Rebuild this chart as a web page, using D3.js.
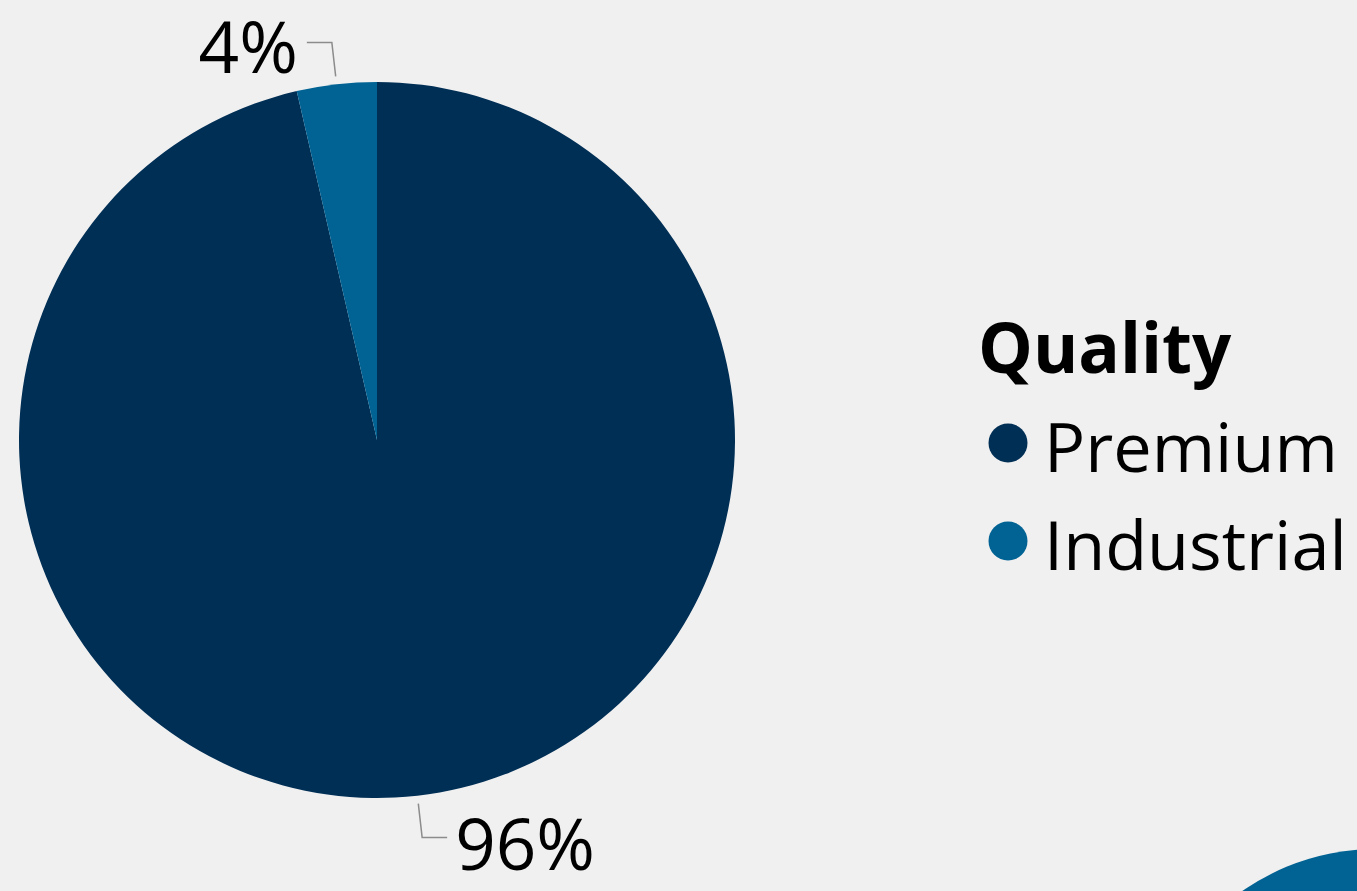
<!DOCTYPE html>
<html>
<head>
<meta charset="utf-8">
<script src="https://cdn.jsdelivr.net/npm/d3@7"></script>
<style>
  html, body { margin: 0; padding: 0; background: #f0f0f0; overflow: hidden; }
  svg { display: block; }
  text { font-family: "Open Sans", "Noto Sans", sans-serif; }
</style>
</head>
<body>
<svg id="chart" width="1357" height="891"></svg>
<script>
// ---- data ----
const categories = ["Premium", "Industrial"];
const values = [96.4, 3.6];
const colors = ["#002f56", "#006394"];
const legendTitle = "Quality";
const otherChartColor = "#006394";

const svg = d3.select("#chart");
const W = 1357, H = 891;
svg.append("rect").attr("width", W).attr("height", H).attr("fill", "#f0f0f0");

// partial second chart in the corner
svg.append("circle").attr("cx", 1376).attr("cy", 1083).attr("r", 234).attr("fill", otherChartColor);

const cx = 377, cy = 440, R = 358;
const data = categories.map((c, i) => ({ cat: c, value: values[i], color: colors[i] }));
const pie = d3.pie().sort(null).value(d => d.value);
const arcs = pie(data);
const arc = d3.arc().innerRadius(0).outerRadius(R);

const g = svg.append("g").attr("transform", `translate(${cx},${cy})`);
g.selectAll("path.slice").data(arcs).enter().append("path")
  .attr("class", "slice")
  .attr("d", arc)
  .attr("fill", d => d.data.color);

// labels with leader lines
const fmt = d3.format(".0%");
const total = d3.sum(values);
arcs.forEach(a => {
  const mid = (a.startAngle + a.endAngle) / 2;
  const sx = Math.sin(mid), sy = -Math.cos(mid);
  const p1 = [(R + 8) * sx, (R + 8) * sy];
  const p2 = [(R + 42) * sx, (R + 42) * sy];
  const right = sx >= 0;
  const p3 = [p2[0] + (right ? 25 : -25), p2[1]];
  g.append("polyline")
    .attr("points", [p1, p2, p3].map(p => p.join(",")).join(" "))
    .attr("fill", "none").attr("stroke", "#8c8c8c").attr("stroke-width", 1.5);
  g.append("text")
    .attr("x", p3[0] + (right ? 8 : -9))
    .attr("y", p3[1] + (sy < 0 ? 30 : 33))
    .attr("text-anchor", right ? "start" : "end")
    .attr("font-size", 71)
    .attr("fill", "#000")
    .text(fmt(a.data.value / total));
});

// legend
const lg = svg.append("g");
lg.append("text").attr("x", 978).attr("y", 373)
  .attr("font-size", 69).attr("font-weight", "bold").attr("fill", "#000")
  .text(legendTitle);
categories.forEach((c, i) => {
  const y = 443 + i * 98;
  lg.append("circle").attr("cx", 1008).attr("cy", y).attr("r", 19.5).attr("fill", colors[i]);
  lg.append("text").attr("x", 1044).attr("y", y + 29)
    .attr("font-size", 68.5).attr("fill", "#000").text(c);
});
</script>
</body>
</html>
